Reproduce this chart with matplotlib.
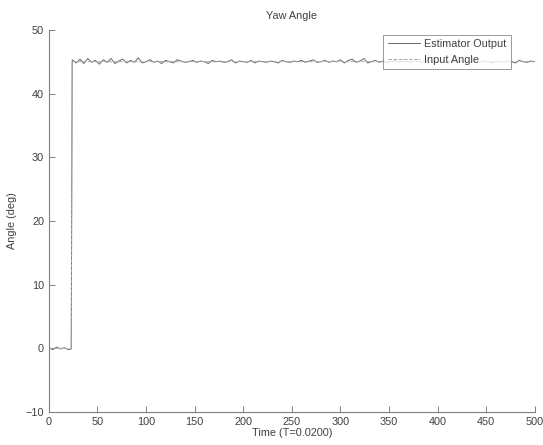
import matplotlib
matplotlib.use("Agg")
import matplotlib.pyplot as plt
import numpy as np

plt.rcParams['font.family'] = ['Liberation Sans', 'DejaVu Sans']

# Sample times (T=0.02 s units)
time = np.concatenate([[0, 4, 8, 12, 16, 20, 23], np.arange(24, 501, 4)])

# Commanded yaw angle
input_angle = np.where(time < 24, 0.0, 45.0)

# Estimator output
estimator = np.array([
    0.1, -0.2, 0.2, -0.1, 0.1, -0.2, -0.1,
    45.3, 44.8, 45.4, 44.7, 45.5, 44.9, 45.2, 44.6, 45.3, 44.9,
    45.5, 44.7, 45.1, 45.4, 44.8, 45.2, 44.9, 45.6, 44.8, 45.0,
    45.3, 44.9, 45.1, 44.7, 45.2, 45.0, 44.8, 45.3, 45.1, 44.9,
    45.0, 45.2, 44.9, 45.1, 45.0, 44.7, 45.2, 45.0, 45.1, 44.9,
    45.0, 45.3, 44.8, 45.1, 45.0, 44.9, 45.2, 44.8, 45.1, 45.0,
    44.9, 45.1, 45.0, 44.8, 45.2, 45.0, 44.9, 45.1, 45.0, 45.2,
    44.9, 45.1, 45.3, 44.9, 45.0, 45.2, 44.9, 45.1, 45.0, 45.3,
    44.8, 45.2, 45.4, 44.9, 45.1, 45.5, 44.8, 45.0, 45.2, 44.9,
    45.1, 44.8, 45.0, 45.2, 44.9, 45.1, 45.0, 44.9, 45.1, 45.0,
    44.9, 45.2, 45.0, 44.8, 45.1, 45.0, 44.9, 45.1, 45.0, 44.9,
    45.1, 45.0, 44.9, 45.2, 45.0, 44.9, 45.1, 45.0, 44.8, 45.1,
    45.0, 44.9, 45.1, 45.0, 44.8, 45.2, 45.0, 44.9, 45.1, 45.0,
])

fig = plt.figure(figsize=(5.43, 4.45), dpi=100)
ax = fig.add_axes([0.090, 0.074, 0.895, 0.859])

ax.plot(time, estimator, color='#6a6a6a', lw=0.7, label='Estimator Output')
ax.plot(time, input_angle, color='#a8a8a8', lw=0.7, ls='--', label='Input Angle')

ax.set_xlim(0, 500)
ax.set_ylim(-10, 50)
ax.set_xticks(np.arange(0, 501, 50))
ax.set_yticks(np.arange(-10, 51, 10))

for side in ['top', 'right']:
    ax.spines[side].set_visible(False)
for side in ['left', 'bottom']:
    ax.spines[side].set_color('#808080')
    ax.spines[side].set_linewidth(0.8)
ax.tick_params(direction='in', length=4, width=0.7, color='#808080',
               labelsize=7.8, labelcolor='#404040')

ax.set_title('Yaw Angle', fontsize=7.8, color='#404040', pad=8)
ax.set_xlabel('Time (T=0.0200)', fontsize=7.8, color='#404040', labelpad=1)
ax.set_ylabel('Angle (deg)', fontsize=7.8, color='#404040', labelpad=6)

leg = ax.legend(loc='upper right', bbox_to_anchor=(0.951, 0.987), fontsize=7.8,
                frameon=True, fancybox=False, handlelength=3.0, borderpad=0.4,
                labelspacing=0.5, handletextpad=0.4, borderaxespad=0)
leg.get_frame().set_edgecolor('#808080')
leg.get_frame().set_linewidth(0.7)
for t in leg.get_texts():
    t.set_color('#404040')

fig.savefig('out.png', dpi=100)
